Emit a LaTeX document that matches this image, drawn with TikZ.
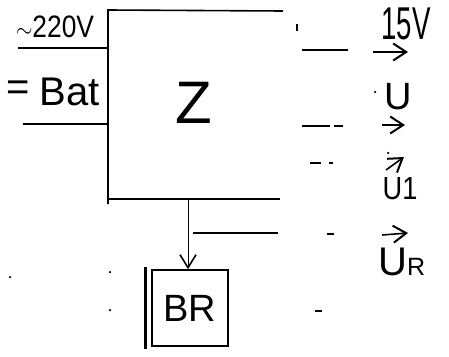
\documentclass[tikz,border=0pt]{standalone}
\usepackage{fontspec}
\setmainfont{Liberation Sans}
\usetikzlibrary{arrows.meta}
\begin{document}
\begin{tikzpicture}[x=1pt,y=-1pt,
  wire/.style={line width=1.6pt},
  thinwire/.style={line width=1.1pt},
  outarrow/.style={line width=1.6pt,-{Straight Barb[length=13pt,width=17pt,line width=2pt]}},
  lbl/.style={inner sep=0pt,anchor=center},
  dotmark/.style={fill=black,inner sep=0pt,minimum size=2.5pt,circle}]
\useasboundingbox (0,0) rectangle (449,356);
% block Z outline (open on the right)
\coordinate (ztl) at (108,10);
\coordinate (ztr) at (283,11);
\coordinate (zbl) at (108,199);
\coordinate (zbr) at (280,199);
\coordinate (zbe) at (108,204);
\draw[wire] (ztr) -- (ztl) -- (zbe);
\draw[wire] (zbl) -- (zbr);
\coordinate (z2a) at (193,233);
\coordinate (z2b) at (278,233);
\draw[wire] (z2a) -- (z2b);
\node[lbl,font=\fontsize{60}{60}\selectfont] (z) at (194,103) {Z};
% inputs
\coordinate (in1) at (18,48);
\coordinate (in1e) at (108,48);
\coordinate (in2) at (23,124);
\coordinate (in2e) at (108,124);
\draw[wire] (in1) -- (in1e);
\draw[wire] (in2) -- (in2e);
\node[lbl,font=\fontsize{31}{31}\selectfont,xscale=0.85] (ac) at (55,27) {$\sim$220V};
\node[lbl,font=\fontsize{40}{40}\selectfont] (eq) at (18,91) {=};
\node[lbl,font=\fontsize{40}{40}\selectfont] (bat) at (70,92) {Bat};
% BR block
\node[draw,line width=1.6pt,minimum width=76pt,minimum height=76pt,inner sep=0pt,font=\fontsize{38}{38}\selectfont] (br) at (190,308) {BR};
\draw[line width=2.6pt] ([xshift=-6pt,yshift=2pt]br.north west) -- ([xshift=-6pt,yshift=-2pt]br.south west);
\coordinate (zout) at (188,199);
\draw[line width=1pt,-{Straight Barb[length=13pt,width=16pt,line width=1.6pt]}] (zout) -- (br.north -| zout);
% output dashes
\coordinate (d1a) at (302,50); \coordinate (d1b) at (348,50);
\coordinate (d2a) at (302,126); \coordinate (d2b) at (330,126);
\coordinate (d2c) at (334,126); \coordinate (d2d) at (343,126);
\coordinate (d3a) at (310,163); \coordinate (d3b) at (321,163);
\coordinate (d3c) at (329,163); \coordinate (d3d) at (333,163);
\coordinate (d4a) at (327,234); \coordinate (d4b) at (334,234);
\coordinate (d5a) at (315,311); \coordinate (d5b) at (322,311);
\draw[wire] (d1a) -- (d1b);
\draw[thinwire] (d2a) -- (d2b) (d2c) -- (d2d);
\draw[thinwire] (d3a) -- (d3b) (d3c) -- (d3d);
\draw[thinwire] (d4a) -- (d4b);
\draw[thinwire] (d5a) -- (d5b);
\coordinate (t1a) at (297,24); \coordinate (t1b) at (297,31);
\draw[thinwire] (t1a) -- (t1b);
% outputs
\coordinate (a1s) at (373,52); \coordinate (a1e) at (408,52);
\draw[outarrow] (a1s) -- (a1e);
\node[lbl,font=\fontsize{46}{46}\selectfont,xscale=0.6] (v15) at (406,24) {15V};
\coordinate (a2s) at (382,125); \coordinate (a2e) at (405,125);
\draw[outarrow] (a2s) -- (a2e);
\node[lbl,font=\fontsize{38}{38}\selectfont] (u) at (398,97) {U};
\node[dotmark] (utick) at (375,92) {};
\coordinate (a3s) at (386,170); \coordinate (a3e) at (404,157);
\draw[outarrow] (a3s) -- (a3e);
\node[dotmark] (u1dot) at (388,153) {};
\node[lbl,font=\fontsize{32}{32}\selectfont,xscale=0.85] (u1) at (400,189) {U1};
\coordinate (a4s) at (382,235); \coordinate (a4e) at (408,233);
\draw[outarrow] (a4s) -- (a4e);
\node[lbl,font=\fontsize{40}{40}\selectfont,anchor=base west] (ur) at (378,275) {U\fontsize{25}{25}\selectfont R};
% stray dots
\node[dotmark] (p1) at (10,277) {};
\node[dotmark] (p2) at (110,272) {};
\node[dotmark] (p3) at (110,310) {};
\end{tikzpicture}
\end{document}
